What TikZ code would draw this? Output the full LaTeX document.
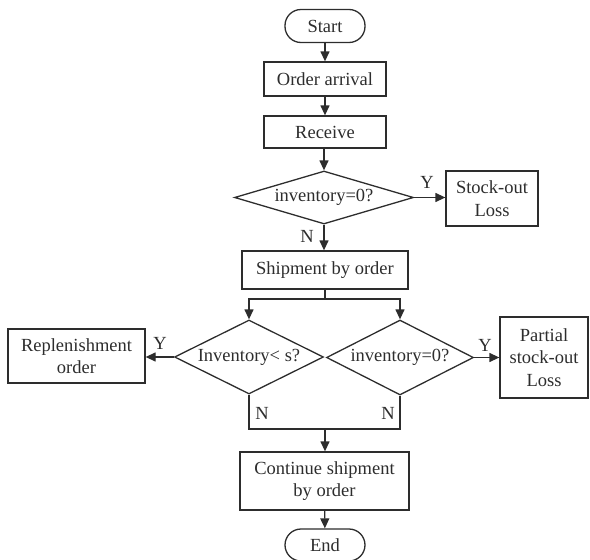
\documentclass[tikz,border=0pt]{standalone}
\usepackage{fontspec}
\setmainfont{Liberation Serif}
\usetikzlibrary{shapes.geometric,arrows.meta}
\definecolor{ink}{RGB}{45,45,45}
\tikzset{
  base/.style={draw=ink, line width=1.3pt, text=ink, inner sep=0pt, align=center,
    font=\fontsize{18.5}{22.5}\selectfont},
  box/.style={base, rectangle},
  term/.style={base, rectangle, rounded corners=16pt},
  dec/.style={base, diamond},
  conn/.style={draw=ink, line width=1.3pt, -{Triangle[length=10pt,width=9pt]}},
  line/.style={draw=ink, line width=1.3pt},
  lbl/.style={text=ink, inner sep=0pt, font=\fontsize{18.5}{22.5}\selectfont}
}
\begin{document}
\begin{tikzpicture}[x=1pt,y=-1pt]
\useasboundingbox (0,0) rectangle (590,560);
\node[term, minimum width=80pt, minimum height=33pt] (start) at (325,26) {Start};
\node[box, minimum width=122pt, minimum height=34pt] (arr) at (325,79) {Order arrival};
\node[box, minimum width=122pt, minimum height=32pt] (rec) at (325,132) {Receive};
\node[dec, aspect=3.38, minimum width=179pt, minimum height=53pt] (d1) at (324,197.5) {inventory=0?};
\node[box, minimum width=92pt, minimum height=55pt] (so) at (492,198.5) {Stock-out\\Loss};
\node[box, minimum width=166pt, minimum height=38pt] (ship) at (325,270) {Shipment by order};
\node[dec, aspect=2.01, minimum width=149pt, minimum height=74pt] (dl) at (249,357) {Inventory< s?};
\node[dec, aspect=1.96, minimum width=147pt, minimum height=75pt] (dr) at (400,357.5) {inventory=0?};
\node[box, minimum width=137pt, minimum height=54pt] (rep) at (76.5,356) {Replenishment\\order};
\node[box, minimum width=88pt, minimum height=81pt] (pso) at (544,357.5) {Partial\\stock-out\\Loss};
\node[box, minimum width=169pt, minimum height=58pt] (cont) at (324.5,481) {Continue shipment\\by order};
\node[term, minimum width=80pt, minimum height=32pt] (end) at (325,545) {End};

\coordinate (br) at (325,299);
\coordinate (mg) at (325,429);

\draw[conn] (start) -- (arr);
\draw[conn] (arr) -- (rec);
\draw[conn] (rec.south -| d1.north) -- (d1.north);
\draw[conn] (d1.east) -- (so.west |- d1.east);
\draw[conn] (d1.south) -- (ship.north -| d1.south);
\draw[line] (ship.south) -- (br);
\draw[conn] (br) -| (dl.north);
\draw[conn] (br) -| (dr.north);
\draw[conn] (dl.west) -- (rep.east |- dl.west);
\draw[conn] (dr.east) -- (pso.west |- dr.east);
\draw[line] (dl.south) |- (mg);
\draw[line] (dr.south) |- (mg);
\draw[conn] (mg) -- (cont.north -| mg);
\draw[conn] (cont) -- (end);

\node[lbl] (y1) at (427,182) {Y};
\node[lbl] (n1) at (307,236) {N};
\node[lbl] (y2) at (160,343) {Y};
\node[lbl] (y3) at (485,345) {Y};
\node[lbl] (n2) at (262,413) {N};
\node[lbl] (n3) at (388,413) {N};
\end{tikzpicture}
\end{document}
